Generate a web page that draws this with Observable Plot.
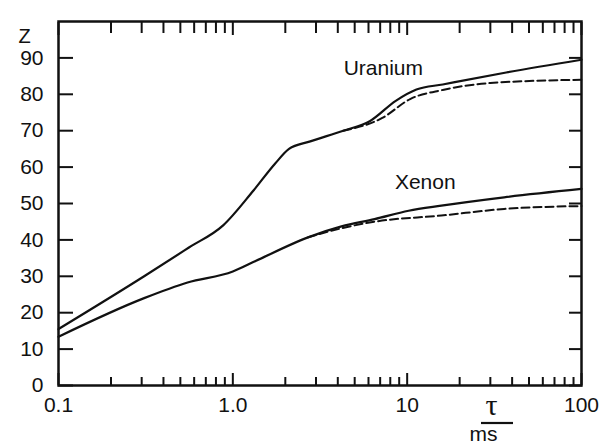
<!DOCTYPE html>
<html>
<head>
<meta charset="utf-8">
<script src="https://cdn.jsdelivr.net/npm/d3@7"></script>
<script src="https://cdn.jsdelivr.net/npm/@observablehq/plot@0.6"></script>
<style>
  html, body { margin: 0; padding: 0; background: #fff; }
  #chart svg { display: block; }
</style>
</head>
<body>
<div id="chart"></div>
<script>
// ---- data (tau in ms, Z) ----
const uraniumTau = [0.1, 0.31, 0.56, 0.88, 1.31, 1.75, 2.1, 2.75, 4.3, 6.1, 8.6, 11.3, 16, 37, 100];
const uraniumZ   = [15.5, 30, 37.9, 44, 53.5, 61, 65, 67, 70, 72.6, 78.2, 81.3, 82.7, 86, 89.5];
const uraniumDashTau = [4.3, 7.2, 10.4, 16, 30, 100];
const uraniumDashZ   = [70, 73.5, 78.7, 81.2, 83.1, 84];

const xenonTau = [0.1, 0.31, 0.55, 1.0, 1.35, 2.7, 4.2, 6.5, 10.2, 15.7, 36, 100];
const xenonZ   = [13.4, 24, 28.3, 31.3, 34.2, 40.7, 43.7, 45.7, 48, 49.4, 51.7, 54];
const xenonDashTau = [2.7, 4.2, 6.5, 15.7, 36, 100];
const xenonDashZ   = [40.7, 43.2, 45, 46.7, 48.5, 49.3];

const seriesNames = ["Uranium", "Xenon"];
const labelTau = [7.3, 12.7];
const labelZ = [87.2, 55.8];

const xMajorTicks = [0.1, 1, 10, 100];
const xMajorLabels = ["0.1", "1.0", "10", "100"];
const xMinorTicks = [0.2, 0.3, 0.4, 0.5, 0.6, 0.7, 0.8, 0.9,
                     2, 3, 4, 5, 6, 7, 8, 9,
                     20, 30, 40, 50, 60, 70, 80, 90];
const yTicks = [0, 10, 20, 30, 40, 50, 60, 70, 80, 90];

const toRows = (tau, z) => tau.map((t, i) => ({tau: t, z: z[i]}));
const labelRows = seriesNames.map((n, i) => ({name: n, tau: labelTau[i], z: labelZ[i]}));

const ink = "#111";
const tickStyle = {fill: "none", label: null, stroke: ink, strokeWidth: 2};

const chart = Plot.plot({
  width: 605,
  height: 443,
  marginLeft: 58,
  marginRight: 24,
  marginTop: 21,
  marginBottom: 58,
  style: {fontFamily: "'Liberation Sans', Arial, Helvetica, sans-serif", fontSize: "21px", color: ink, background: "#fff"},
  x: {type: "log", domain: [0.1, 100]},
  y: {domain: [0, 100]},
  marks: [
    // inward ticks (outward ticks shifted back inside the frame)
    Plot.axisX(xMajorTicks, {anchor: "bottom", tickSize: 12, dy: -12, ...tickStyle}),
    Plot.axisX(xMinorTicks, {anchor: "bottom", tickSize: 8, dy: -8, ...tickStyle}),
    Plot.axisX(xMajorTicks, {anchor: "top", tickSize: 13, dy: 13, ...tickStyle}),
    Plot.axisX(xMinorTicks, {anchor: "top", tickSize: 11, dy: 11, ...tickStyle}),
    Plot.axisY(yTicks, {anchor: "left", tickSize: 15, dx: 15, ...tickStyle}),
    Plot.axisY(yTicks, {anchor: "right", tickSize: 13, dx: -13, ...tickStyle}),
    // tick labels
    Plot.axisX(xMajorTicks, {anchor: "bottom", tickSize: 0, tickPadding: 12, label: null, fill: ink,
      tickFormat: d => xMajorLabels[xMajorTicks.indexOf(d)]}),
    Plot.axisY(yTicks, {anchor: "left", tickSize: 0, tickPadding: 15, label: null, fill: ink}),
    Plot.frame({stroke: ink, strokeWidth: 2.5}),
    // curves
    Plot.line(toRows(uraniumDashTau, uraniumDashZ), {x: "tau", y: "z", stroke: ink, strokeWidth: 2, strokeDasharray: "8,4", curve: "monotone-x"}),
    Plot.line(toRows(xenonDashTau, xenonDashZ), {x: "tau", y: "z", stroke: ink, strokeWidth: 2, strokeDasharray: "8,4", curve: "monotone-x"}),
    Plot.line(toRows(uraniumTau, uraniumZ), {x: "tau", y: "z", stroke: ink, strokeWidth: 2.2, curve: "monotone-x"}),
    Plot.line(toRows(xenonTau, xenonZ), {x: "tau", y: "z", stroke: ink, strokeWidth: 2.2, curve: "monotone-x"}),
    // series labels
    Plot.text(labelRows, {x: "tau", y: "z", text: "name", fill: ink, fontSize: 21}),
    // axis titles
    Plot.text(["Z"], {frameAnchor: "top-left", dx: -40, dy: 7, fill: ink, fontSize: 20}),
    Plot.text(["τ"], {frameAnchor: "bottom-right", dx: -84, dy: 29, fill: ink, fontSize: 30, fontFamily: "'Liberation Serif', 'DejaVu Serif', serif"}),
    Plot.text(["ms"], {frameAnchor: "bottom-right", dx: -84, dy: 55, fill: ink, fontSize: 21})
  ]
});

// fraction bar between τ and ms
d3.select(chart).append("line")
  .attr("x1", 605 - 24 - 84 - 16).attr("x2", 605 - 24 - 84 + 16)
  .attr("y1", 443 - 58 + 38).attr("y2", 443 - 58 + 38)
  .attr("stroke", ink).attr("stroke-width", 2.2);

document.getElementById("chart").append(chart);
</script>
</body>
</html>
